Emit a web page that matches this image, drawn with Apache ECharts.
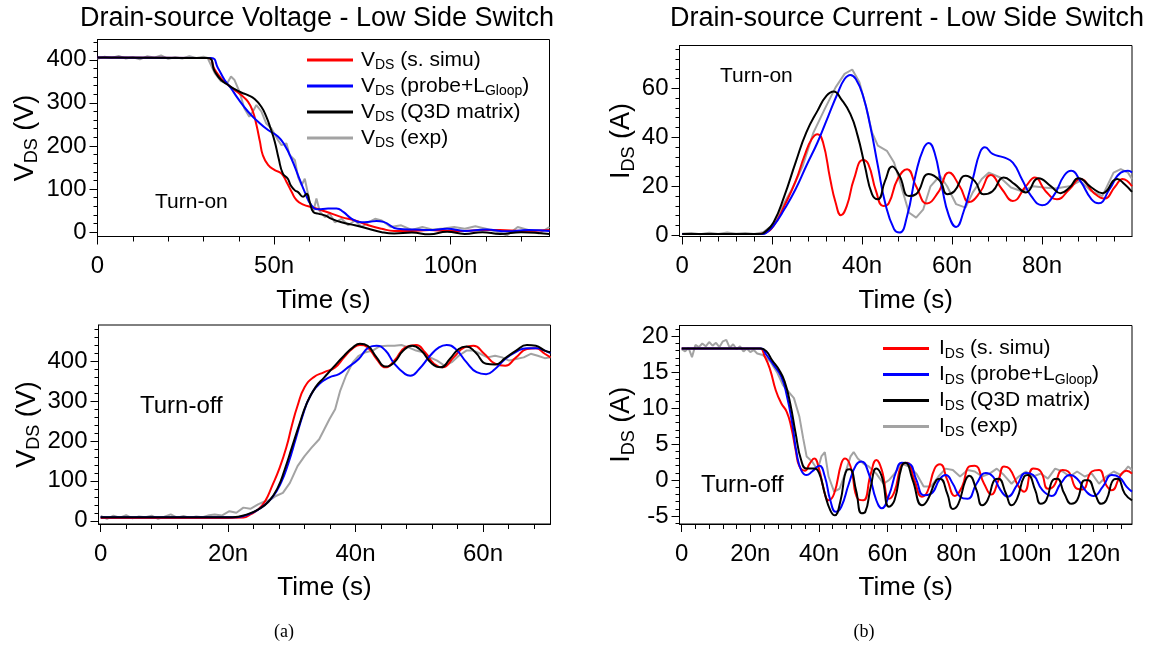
<!DOCTYPE html>
<html>
<head>
<meta charset="utf-8">
<script src="https://cdn.jsdelivr.net/npm/echarts@6/dist/echarts.min.js"></script>
<style>
html,body{margin:0;padding:0;background:#fff;}
#main{width:1150px;height:648px;}
</style>
</head>
<body>
<div id="main"></div>
<script>
// time in ns, V in volts, I in amps

// (a) top: turn-on voltage
var vOnSimu = [[0,405],[31.2,404],[33.2,377],[35,357],[36.9,342],[38.8,330],[40.7,318],[42.6,303],[44,280],[45,249],[46,210],[46.8,179],[48.3,156],[50.2,144],[52.1,136],[53.5,117],[55,93],[56.4,74],[58.3,64],[60.7,58],[63.4,51],[66.3,43],[69.1,35],[72.9,27],[76.7,16],[80.5,8],[84,3],[89,3],[94,5],[99,3],[104,3],[109,5],[114,5],[120,3],[128,5]];
var vOnProbe = [[0,405],[32.2,404],[34.1,381],[36,353],[37.8,334],[39.7,311],[42.6,280],[45.4,257],[48.3,237],[51.1,222],[53,202],[54.9,171],[56.8,132],[58.7,93],[60.6,62],[62.5,53],[65.3,55],[67.7,55],[69.6,47],[72,31],[74.8,23],[77,24],[79,26],[81,24],[85,8],[90,6],[94,5],[99,8],[104,3],[110,6],[116,2],[122,5],[128,3]];
var vOnQ3d = [[0,405],[31.2,404],[33.2,373],[35,353],[36.9,342],[38.8,332],[40.7,324],[42.6,318],[44.5,309],[46.4,291],[47.8,268],[49,241],[50.2,210],[51.3,171],[52.5,136],[53.9,124],[54.7,109],[55.9,97],[56.8,93],[58.2,82],[59.2,89],[60.1,70],[61.1,47],[62.5,43],[64.4,39],[66.3,31],[69.1,23],[72.9,16],[76.7,8],[80.5,0],[84,-3],[89,-1],[94,-5],[99,1],[104,-4],[109,0],[114,-4],[120,0],[128,-4]];
var vOnExp = [[0,402],[2,407],[4,404],[6,409],[8,403],[10,406],[12,401],[14,408],[16,405],[18,410],[20,402],[22,406],[24,403],[26,408],[28,404],[30,407],[31.2,404],[33.2,369],[35,350],[36.9,348],[37.8,361],[38.8,353],[40.2,326],[41.6,287],[43,268],[44,280],[45,295],[46.4,280],[47.8,252],[49.2,241],[51.1,214],[52.1,202],[53.5,206],[54.4,179],[55.9,167],[56.8,128],[57.8,109],[58.7,124],[60.1,70],[61.1,47],[62,78],[63,47],[64.4,35],[65.8,43],[67.2,23],[69.1,31],[71,16],[72.9,27],[74.8,12],[76.7,23],[78.6,31],[80.5,27],[83,12],[86,16],[89,5],[92,12],[95,6],[98,8.5],[101,12],[104,8],[107,14],[110,8],[113,1],[116,-7],[119,12],[122,5],[125,-3],[128,12]];

// (b) top: turn-on current
var iOnSimu = [[0,0.5],[17,0.5],[18.5,1],[20.3,3.8],[22.7,12],[25.2,22],[27.2,32.5],[28.8,39.3],[30.1,41.3],[31.3,38],[32.9,23],[34.1,13.4],[35.3,8.2],[36.6,12],[38.2,23],[40.2,30.7],[41.4,29],[43.1,18],[44.7,12],[45.9,13],[47.9,23],[50,27],[52,20],[54.4,13],[56.9,17.5],[59.3,25.6],[61.7,20],[63.8,13.6],[66.2,17.5],[68.6,24.6],[71.1,18.8],[73.5,14],[76.4,20],[78.4,23.6],[80.8,18],[83.3,14.7],[86.1,18.8],[88.5,23],[91.4,17.5],[93.8,15],[96.3,20],[97.9,23],[100,20]];
var iOnProbe = [[0,0.5],[17.9,0.5],[19,1.5],[20.3,3.8],[22.7,10.6],[25.2,18.8],[27.6,28.4],[30.1,38],[32.5,48.8],[34.5,57.7],[36.1,63.8],[37.4,65.5],[38.6,63.8],[40.2,57],[41.8,44.7],[43.5,28.4],[45.1,13.4],[47.1,2.5],[48.3,1.1],[50,7.9],[52,25.6],[53.6,35.2],[54.8,37.7],[56.1,33.8],[57.7,20],[59.3,7.9],[60.9,3.4],[62.5,9.3],[64.6,23],[66.2,33.8],[67.3,35.9],[69,33.2],[71.5,31.8],[73.5,29.7],[75.5,23],[77.6,16],[80,12.3],[82.5,16],[84.9,24.3],[86.5,26.3],[88.5,22.2],[91,14.7],[92.6,13.1],[95,18.8],[97.5,25.6],[99.1,26.3],[100,25.6]];
var iOnQ3d = [[0,0.5],[17,0.5],[18.5,1.5],[20.3,5.2],[22.7,16],[25.2,29.7],[27.6,42],[30.1,50.9],[32.1,57],[33.7,58.7],[35.3,55.7],[37.4,49.5],[39,40.7],[40.6,28.4],[42.2,16.8],[43.5,14.7],[45.1,22.2],[46.7,28.1],[48.3,24.3],[50.4,16],[52,16.8],[54.8,25],[57.3,22.2],[58.9,16.8],[60.5,18],[63,24.3],[65,22.2],[67,16.8],[69,18],[71.5,23.6],[73.9,20.9],[76.4,17.5],[79.2,23.3],[82,20],[84.1,17.2],[86.1,19.5],[88.1,23.3],[91,19.5],[93.4,17.2],[96.7,23],[98.3,20.9],[100,17.7]];
var iOnExp = [[0,0.6],[2,0.9],[4,0.4],[6,1],[8,0.5],[10,1.1],[12,0.6],[14,0.9],[16,0.5],[18,1.2],[20.3,4.5],[21.9,10.6],[24.4,18.8],[26.8,28.4],[29.2,42],[31.7,51.6],[34.1,60.4],[36.1,65.9],[37.8,67.7],[39.4,62.5],[41,51.6],[42.2,42],[43.5,36.6],[45.5,34.5],[47.1,29.7],[48.7,20],[50.4,9.3],[52,7.2],[53.6,10.6],[55.2,20],[57.3,24.3],[58.9,20],[60.9,12.7],[63,11.3],[64.6,17.5],[66.6,23],[68.2,25.6],[70.7,23.6],[73.1,19.5],[75.5,18],[78,20],[80.4,19.5],[82.9,19.1],[86.1,20],[88.5,22.2],[91,18],[93.4,16],[95.9,25.6],[97.5,27],[99.1,25.6],[100,23]];

// (a) bottom: turn-off voltage
var vOffSimu = [[0,7],[20,7],[22.4,8],[23.5,16],[24.7,28],[25.8,49],[26.9,87],[28.1,133],[29.2,187],[30,238],[30.9,288],[32,334],[33.4,359],[35.1,372],[36.8,384],[38.2,409],[39.6,432],[40.7,440],[41.9,434],[43.3,405],[44.7,384],[46.1,401],[47.8,434],[49.5,440],[50.9,422],[52.3,393],[53.7,384],[55.4,409],[57.1,434],[58.5,438],[60.2,418],[61.9,393],[63.5,388],[65.2,409],[66.9,430],[68.3,432],[69.7,418],[70.6,409]];
var vOffProbe = [[0,9],[21.3,9],[23.5,18],[25.2,33],[26.9,58],[28.3,95],[29.5,146],[30.6,204],[31.7,263],[32.8,309],[34.3,342],[35.9,359],[37.4,367],[38.8,384],[40.5,405],[42.1,434],[43.3,438],[44.7,426],[46.1,393],[47.8,367],[48.6,363],[50,380],[51.7,413],[53.1,434],[54.3,440],[55.7,430],[57.4,397],[59,372],[60.5,367],[61.9,380],[63.5,405],[65.2,423],[66.9,432],[68.6,432],[69.7,426],[70.6,420]];
var vOffQ3d = [[0,9],[20.7,9],[23,16],[24.7,28],[26.4,49],[27.8,83],[28.9,129],[30,183],[31.2,242],[32.3,292],[33.7,334],[35.1,359],[36.5,384],[38.2,413],[39.6,434],[40.7,443],[41.9,438],[43.3,409],[44.7,386],[46.1,397],[47.5,426],[48.9,438],[50.3,426],[52,393],[53.4,384],[54.8,405],[56.2,430],[57.4,436],[58.8,422],[60.5,393],[61.9,391],[63.5,407],[65.2,426],[66.9,440],[68.3,438],[69.7,426],[70.6,422]];
var vOffExp = [[0,12],[1,5],[2,13],[3,8],[4,14],[5,6],[6,11],[7,9],[8,13],[9,5],[10,10],[11,16],[12,8],[13,12],[14,7],[15,11],[16,9],[17,14],[17.9,16],[19,13],[20.2,24],[21.3,20],[22.4,33],[23.5,30],[24.7,41],[25.8,49],[26.6,52],[27.5,62],[28.6,70],[29.7,95],[30.9,137],[32,162],[33.1,183],[34.3,204],[35.1,229],[35.9,254],[36.8,279],[37.6,326],[38.5,363],[39.6,397],[40.5,413],[41.6,422],[42.7,426],[43.8,437],[45,438],[46.1,438],[47.2,440],[48.3,434],[49.5,426],[50.6,422],[51.7,409],[52.8,401],[54,388],[55.1,397],[56.2,413],[57.4,426],[58.5,426],[59.6,418],[60.7,409],[61.9,413],[63,409],[64.1,401],[65.2,405],[66.4,409],[67.5,418],[68.6,413],[69.7,407],[70.6,409]];

// (b) bottom: turn-off current
var iOffSimu = [[0,18.3],[22.6,18.3],[24.2,17.2],[25.8,15.3],[27.4,12.5],[29,10.7],[30.6,9.5],[31.9,7.4],[33.2,4.2],[34.3,1.9],[35.9,1.3],[37.3,2.3],[38.6,3],[40.1,1.4],[41.2,-0.9],[42.8,-2.8],[44.4,-1.9],[46.5,2.3],[47.6,3],[49.2,1.9],[51.3,-2.6],[52.9,-2.8],[55.1,0.9],[56.7,2.8],[58.3,1.4],[60.4,-2.6],[62,-1.6],[64.1,2.1],[65.7,2.4],[67.8,0],[70,-2.3],[71.6,-1.6],[73.7,1.6],[75.3,2.2],[77.4,0],[79.6,-2.2],[81.7,-0.9],[83.8,1.9],[85.4,2],[88.1,-0.5],[90.2,-2],[92.3,0],[93.9,1.9],[95.5,1.6],[98.2,-0.9],[99.8,-1.6],[102.4,1.6],[104.6,1.2],[106.7,-1.2],[108.3,-0.9],[111,1.4],[112.6,1.2],[115.2,-1.2],[116.8,-1.3],[119.5,1.2],[121.6,1.4],[123.7,-0.7],[125.3,-1.4],[128,0.8],[129.6,1.3],[131.2,0.9]];
var iOffProbe = [[0,18.3],[23.1,18.3],[24.7,17.4],[26.8,16],[29,14.4],[30.6,11.8],[32.2,7.9],[33.5,3.7],[34.8,1.4],[36.4,0.7],[38,1.2],[40.1,2],[41.7,0.5],[43.3,-2.8],[44.9,-4.4],[46.5,-3.7],[48.7,-0.5],[50.8,2.1],[52.4,2.6],[54.5,0.9],[56.7,-2.8],[58.3,-3.9],[60.4,-2.1],[62.5,1.2],[64.1,2.4],[66.2,2.3],[68.4,0],[70.5,-2.1],[72.6,-1.9],[75.3,0.2],[76.9,0.7],[79,-0.5],[81.1,-2.3],[83.3,-2.6],[85.9,-0.5],[88.6,1],[90.7,0.5],[92.9,-1.4],[95,-2.3],[97.7,-0.7],[100.3,1],[102.4,0.7],[105.1,-1.4],[107.8,-2.2],[110.4,-0.5],[113.1,0.7],[115.2,0.2],[117.9,-1.6],[120,-2.2],[122.7,-0.9],[125.3,0.7],[127.5,0.4],[129.6,-0.9],[131.2,-1.6]];
var iOffQ3d = [[0,18.3],[23.1,18.3],[24.7,17.9],[26.3,16.7],[28.4,15.3],[30,13.7],[31.6,10.7],[33.2,6.5],[34.8,2.8],[36.4,1.6],[38.6,1.6],[40.1,0.9],[41.7,-1.9],[43.3,-4.2],[44.6,-4.9],[46.2,-3],[48.1,1.4],[49,1.5],[50.8,-1.4],[52.4,-4.6],[53.5,-4.4],[55.1,-0.9],[56.7,1.6],[58.3,0.5],[60.4,-3.7],[62,-2.8],[64.1,1.9],[65.2,2.4],[67.3,0],[70,-3.5],[71.6,-2.8],[74.2,0],[75.3,0.2],[77.4,-1.9],[79,-4],[80.6,-3.3],[82.7,0],[83.8,0.6],[85.9,-1.4],[87.5,-3.5],[89.1,-2.8],[91.3,0.1],[92.3,0.2],[94.5,-1.9],[96.1,-3.5],[97.7,-2.6],[99.8,0.5],[100.9,0.7],[103,-1.4],[104.6,-3.3],[106.2,-2.8],[108.3,0.1],[109.4,0.2],[111.5,-1.9],[113.6,-3.3],[115.2,-2.8],[117.4,0],[118.4,0],[120.6,-2.1],[122.2,-3.3],[123.7,-2.8],[125.9,0.1],[127,0.2],[129.1,-1.9],[131.2,-2.8]];
var iOffExp = [[0,18.2],[1,17.9],[2,18.4],[3,17.1],[4,18.8],[5,18.5],[6,19],[7,18.6],[8,19.2],[9,18.7],[10,19.1],[11,18.5],[12,19.3],[13,19.5],[14,18.4],[15,18.9],[16,18.2],[17,18.6],[18,17.9],[19,18.3],[20,17.8],[21,18.1],[22,17.6],[23.6,17.4],[25.8,16.5],[27.9,14.9],[29.5,13.2],[31.1,12.3],[32.7,11.4],[34.3,8.8],[35.4,5.8],[36.4,3.3],[38,2.6],[39.6,1.4],[40.7,3.3],[41.7,3.9],[42.8,0.5],[44.4,-1.6],[46,-1.2],[47.6,0.9],[49.2,3.3],[50.1,3.9],[51.3,3],[52.9,2.3],[54.5,1.9],[56.7,0.9],[58.8,-0.5],[60.4,0],[62,0.9],[64.1,2.3],[66.2,1.9],[68.4,0.9],[70.5,-0.9],[72.6,-0.9],[74.8,0.5],[76.9,1.6],[79,1.4],[81.1,0.5],[83.3,1.4],[85.4,1.2],[87.5,0.5],[89.7,0.9],[91.8,1.6],[93.9,0.7],[96.1,-0.5],[98.2,0.5],[100.3,1.2],[102.4,0.5],[104.6,0.9],[106.7,0.2],[108.8,1.6],[111,1.2],[113.1,0.5],[115.2,1.2],[117.4,0.5],[119.5,0.9],[121.6,-0.5],[123.7,0.5],[125.9,1.2],[128,0.7],[130.1,1.9],[131.2,1.4]];

// tick positions
var xMajorOnV = [0, 50, 100];
var xMinorOnV = [10, 20, 30, 40, 60, 70, 80, 90, 110, 120];
var yMajorOnV = [0, 100, 200, 300, 400];
var yMinorV = [20, 40, 60, 80, 120, 140, 160, 180, 220, 240, 260, 280, 320, 340, 360, 380, 420, 440, 460, 480];
var xMajorOnI = [0, 20, 40, 60, 80];
var xMinorOnI = [4, 8, 12, 16, 24, 28, 32, 36, 44, 48, 52, 56, 64, 68, 72, 76, 84, 88, 92, 96];
var yMajorOnI = [0, 20, 40, 60];
var yMinorOnI = [4, 8, 12, 16, 24, 28, 32, 36, 44, 48, 52, 56, 64, 68, 72, 76];
var xMajorOffV = [0, 20, 40, 60];
var xMinorOffV = [4, 8, 12, 16, 24, 28, 32, 36, 44, 48, 52, 56, 64, 68];
var xMajorOffI = [0, 20, 40, 60, 80, 100, 120];
var xMinorOffI = [4, 8, 12, 16, 24, 28, 32, 36, 44, 48, 52, 56, 64, 68, 72, 76, 84, 88, 92, 96, 104, 108, 112, 116, 124, 128];
var yMajorOffI = [-5, 0, 5, 10, 15, 20];
var yMinorOffI = [-6, -4, -3, -2, -1, 1, 2, 3, 4, 6, 7, 8, 9, 11, 12, 13, 14, 16, 17, 18, 19, 21];

var vNames = ['V_DS (s. simu)', 'V_DS (probe+L_Gloop)', 'V_DS (Q3D matrix)', 'V_DS (exp)'];
var iNames = ['I_DS (s. simu)', 'I_DS (probe+L_Gloop)', 'I_DS (Q3D matrix)', 'I_DS (exp)'];
var colors = ['#ff0000', '#0000ff', '#000000', '#a3a3a3'];

var FONT = '"Liberation Sans", Arial, Helvetica, sans-serif';

// 'V_DS (x)' -> rich text with subscript
function toRich(name) {
    return name.split(/_(\w+)/).map(function (p, k) {
        if (!p) return '';
        return k % 2 ? '{s|' + p + '}' : '{n|' + p + '}';
    }).join('');
}
function nsLabel(v) { return v === 0 ? '0' : v + 'n'; }

var panels = [
    {grid: {left: 97.5, top: 39.5, width: 452, height: 197}, x: [0, 128], y: [-10, 447],
     xMajor: xMajorOnV, xMinor: xMinorOnV, yMajor: yMajorOnV, yMinor: yMinorV, yName: 'V_DS (V)', yGap: 56,
     names: vNames, data: [vOnSimu, vOnProbe, vOnQ3d, vOnExp]},
    {grid: {left: 679.5, top: 45.5, width: 452.5, height: 191}, x: [-0.6, 100], y: [-0.5, 77.5],
     xMajor: xMajorOnI, xMinor: xMinorOnI, yMajor: yMajorOnI, yMinor: yMinorOnI, yName: 'I_DS (A)', yGap: 41,
     names: iNames, data: [iOnSimu, iOnProbe, iOnQ3d, iOnExp]},
    {grid: {left: 98.5, top: 325, width: 452, height: 199}, x: [-0.34, 70.6], y: [-8, 490],
     xMajor: xMajorOffV, xMinor: xMinorOffV, yMajor: yMajorOnV, yMinor: yMinorV, yName: 'V_DS (V)', yGap: 55,
     names: vNames, data: [vOffSimu, vOffProbe, vOffQ3d, vOffExp]},
    {grid: {left: 679.5, top: 325.5, width: 452.5, height: 198.5}, x: [-0.64, 131.2], y: [-6.1, 21.5],
     xMajor: xMajorOffI, xMinor: xMinorOffI, yMajor: yMajorOffI, yMinor: yMinorOffI, yName: 'I_DS (A)', yGap: 40,
     names: iNames, data: [iOffSimu, iOffProbe, iOffQ3d, iOffExp]}
];

var nameRich = {
    n: {fontSize: 27, fontFamily: FONT, color: '#000', lineHeight: 32},
    s: {fontSize: 18, fontFamily: FONT, color: '#000', verticalAlign: 'bottom'}
};
var legendRich = {
    n: {fontSize: 21, fontFamily: FONT, color: '#000', lineHeight: 25},
    s: {fontSize: 14, fontFamily: FONT, color: '#000', verticalAlign: 'bottom'}
};

var option = {
    animation: false,
    backgroundColor: '#fff',
    grid: [], xAxis: [], yAxis: [], series: [],
    legend: [
        {data: vNames, left: 307, top: 49.5, orient: 'vertical', padding: 0, icon: 'rect', itemWidth: 46, itemHeight: 3,
         itemGap: 3, selectedMode: false, formatter: toRich,
         textStyle: {padding: [0, 0, 0, 3], rich: legendRich}},
        {data: iNames, left: 883, top: 338, orient: 'vertical', padding: 0, icon: 'rect', itemWidth: 46, itemHeight: 3,
         itemGap: 3, selectedMode: false, formatter: toRich,
         textStyle: {padding: [0, 0, 0, 5], rich: legendRich}}
    ],
    graphic: [
        {type: 'text', x: 317, y: 19, style: {text: 'Drain-source Voltage - Low Side Switch', font: '27px ' + FONT, fill: '#000', textAlign: 'center', textVerticalAlign: 'middle'}},
        {type: 'text', x: 907, y: 19, style: {text: 'Drain-source Current - Low Side Switch', font: '27px ' + FONT, fill: '#000', textAlign: 'center', textVerticalAlign: 'middle'}},
        {type: 'text', x: 155, y: 202, style: {text: 'Turn-on', font: '21px ' + FONT, fill: '#000', textAlign: 'left', textVerticalAlign: 'middle'}},
        {type: 'text', x: 720, y: 76, style: {text: 'Turn-on', font: '21px ' + FONT, fill: '#000', textAlign: 'left', textVerticalAlign: 'middle'}},
        {type: 'text', x: 140, y: 406, style: {text: 'Turn-off', font: '24px ' + FONT, fill: '#000', textAlign: 'left', textVerticalAlign: 'middle'}},
        {type: 'text', x: 701, y: 485, style: {text: 'Turn-off', font: '24px ' + FONT, fill: '#000', textAlign: 'left', textVerticalAlign: 'middle'}},
        {type: 'text', x: 284, y: 632, style: {text: '(a)', font: '18px "Liberation Serif", "Times New Roman", serif', fill: '#000', textAlign: 'center', textVerticalAlign: 'middle'}},
        {type: 'text', x: 864, y: 632, style: {text: '(b)', font: '18px "Liberation Serif", "Times New Roman", serif', fill: '#000', textAlign: 'center', textVerticalAlign: 'middle'}}
    ]
};

panels.forEach(function (p, i) {
    option.grid.push(Object.assign({show: true, borderColor: '#000', borderWidth: 1}, p.grid));
    // main x axis: labels + major ticks
    option.xAxis.push({
        gridIndex: i, type: 'value', position: 'bottom', min: p.x[0], max: p.x[1],
        axisLine: {onZero: false, lineStyle: {color: '#000', width: 1}},
        axisTick: {customValues: p.xMajor, length: 8, lineStyle: {color: '#000', width: 1}},
        axisLabel: {customValues: p.xMajor, formatter: nsLabel, fontSize: 24, fontFamily: FONT, color: '#000', margin: 18},
        splitLine: {show: false},
        name: 'Time (s)', nameLocation: 'middle', nameGap: 51,
        nameTextStyle: {fontSize: 26, fontFamily: FONT, color: '#000'}
    });
    // minor ticks
    option.xAxis.push({
        gridIndex: i, type: 'value', position: 'bottom', min: p.x[0], max: p.x[1],
        axisLine: {show: false, onZero: false},
        axisTick: {customValues: p.xMinor, length: 5, lineStyle: {color: '#000', width: 1}},
        axisLabel: {show: false}, splitLine: {show: false}
    });
    option.yAxis.push({
        gridIndex: i, type: 'value', position: 'left', min: p.y[0], max: p.y[1],
        axisLine: {onZero: false, lineStyle: {color: '#000', width: 1}},
        axisTick: {customValues: p.yMajor, length: 8, lineStyle: {color: '#000', width: 1}},
        axisLabel: {customValues: p.yMajor, fontSize: 24, fontFamily: FONT, color: '#000', margin: 11},
        splitLine: {show: false},
        name: toRich(p.yName), nameLocation: 'middle', nameRotate: 90, nameGap: p.yGap,
        nameTextStyle: {rich: nameRich}
    });
    option.yAxis.push({
        gridIndex: i, type: 'value', position: 'left', min: p.y[0], max: p.y[1],
        axisLine: {show: false, onZero: false},
        axisTick: {customValues: p.yMinor, length: 4, lineStyle: {color: '#000', width: 1}},
        axisLabel: {show: false}, splitLine: {show: false}
    });
    // exp trace first so the simulations sit on top
    [3, 0, 1, 2].forEach(function (k) {
        option.series.push({
            name: p.names[k], type: 'line', xAxisIndex: 2 * i, yAxisIndex: 2 * i,
            data: p.data[k], symbol: 'none', silent: true,
            smooth: k === 3 ? false : 0.5,
            lineStyle: {color: colors[k], width: 2},
            itemStyle: {color: colors[k]},
            z: k === 3 ? 2 : 3
        });
    });
});

var chart = echarts.init(document.getElementById('main'));
chart.setOption(option);
</script>
</body>
</html>
